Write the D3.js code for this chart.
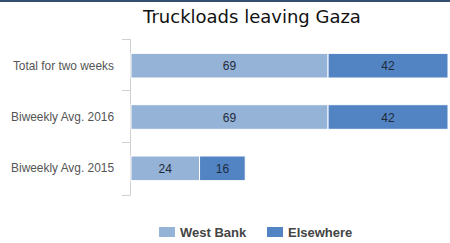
<!DOCTYPE html>
<html>
<head>
<meta charset="utf-8">
<script src="https://cdn.jsdelivr.net/npm/d3@7"></script>
<style>
  body { margin: 0; background: #fff; }
  svg { display: block; font-family: Arial, "Liberation Sans", sans-serif; }
</style>
</head>
<body>
<div id="chart"></div>
<script>
const WIDTH = 450;
const HEIGHT = 243;
const MARGIN = { TOP: 39, BOTTOM: 48, LEFT: 130, RIGHT: 2 };
const INNER_WIDTH = WIDTH - MARGIN.LEFT - MARGIN.RIGHT;
const INNER_HEIGHT = HEIGHT - MARGIN.TOP - MARGIN.BOTTOM;

const categories = ['Total for two weeks', 'Biweekly Avg. 2016', 'Biweekly Avg. 2015'];
const seriesNames = ['West Bank', 'Elsewhere'];
const westBank = [69, 69, 24];
const elsewhere = [42, 42, 16];
const colors = ['#95b3d7', '#5284c4'];

const rows = categories.map((c, i) => ({ cat: c, 'West Bank': westBank[i], 'Elsewhere': elsewhere[i] }));
const stacked = d3.stack().keys(seriesNames)(rows);

const svg = d3.select('#chart')
    .append('svg')
    .attr('width', WIDTH)
    .attr('height', HEIGHT);

// top border strip
svg.append('rect')
    .attr('x', 0).attr('y', 0)
    .attr('width', WIDTH).attr('height', 2)
    .attr('fill', '#34506e');

svg.append('text')
    .attr('x', 252)
    .attr('y', 23)
    .attr('text-anchor', 'middle')
    .attr('font-family', 'Verdana, "DejaVu Sans", sans-serif')
    .attr('font-size', 18)
    .attr('fill', '#111')
    .text('Truckloads leaving Gaza');

const g = svg.append('g')
    .attr('transform', `translate(${MARGIN.LEFT}, ${MARGIN.TOP})`);

const xScale = d3.scaleLinear()
    .domain([0, 111])
    .range([1, INNER_WIDTH]);

const yScale = d3.scaleBand()
    .domain(categories)
    .range([0, INNER_HEIGHT])
    .paddingInner(0.52)
    .paddingOuter(0.28);

// category axis with ticks between bands
const boundaries = categories.map((c, i) => i * yScale.step()).concat([INNER_HEIGHT]);
const axis = g.append('g').attr('class', 'y-axis');
axis.append('line')
    .attr('x1', 0.5).attr('x2', 0.5)
    .attr('y1', 0).attr('y2', INNER_HEIGHT)
    .attr('stroke', '#cfcfcf');
axis.selectAll('line.tick')
    .data(boundaries)
    .join('line')
    .attr('class', 'tick')
    .attr('x1', -8).attr('x2', 0.5)
    .attr('y1', (d) => Math.round(d) + 0.5)
    .attr('y2', (d) => Math.round(d) + 0.5)
    .attr('stroke', '#cfcfcf');
axis.selectAll('text')
    .data(categories)
    .join('text')
    .attr('x', -16)
    .attr('y', (d) => yScale(d) + yScale.bandwidth() / 2 + 4)
    .attr('text-anchor', 'end')
    .attr('font-size', 11.9)
    .attr('fill', '#555')
    .text((d) => d);

const layers = g.selectAll('g.layer')
    .data(stacked)
    .join('g')
    .attr('class', 'layer')
    .attr('fill', (d, i) => colors[i]);

layers.selectAll('rect')
    .data((d) => d)
    .join('rect')
    .attr('x', (d) => xScale(d[0]))
    .attr('y', (d) => yScale(d.data.cat))
    .attr('width', (d) => xScale(d[1]) - xScale(d[0]))
    .attr('height', yScale.bandwidth())
    .attr('stroke', '#fff')
    .attr('stroke-width', 1);

layers.selectAll('text')
    .data((d) => d)
    .join('text')
    .attr('x', (d) => (xScale(d[0]) + xScale(d[1])) / 2)
    .attr('y', (d) => yScale(d.data.cat) + yScale.bandwidth() / 2 + 4.5)
    .attr('text-anchor', 'middle')
    .attr('font-size', 12)
    .attr('fill', '#1f2a3a')
    .text((d) => d[1] - d[0]);

// legend
const legendX = [159, 267];
const legend = svg.append('g')
    .selectAll('g')
    .data(seriesNames)
    .join('g')
    .attr('transform', (d, i) => `translate(${legendX[i]}, 227)`);
legend.append('rect')
    .attr('width', 16).attr('height', 10)
    .attr('fill', (d, i) => colors[i]);
legend.append('text')
    .attr('x', 21)
    .attr('y', 9.5)
    .attr('font-size', 13)
    .attr('font-weight', 'bold')
    .attr('fill', '#444')
    .text((d) => d);
</script>
</body>
</html>
